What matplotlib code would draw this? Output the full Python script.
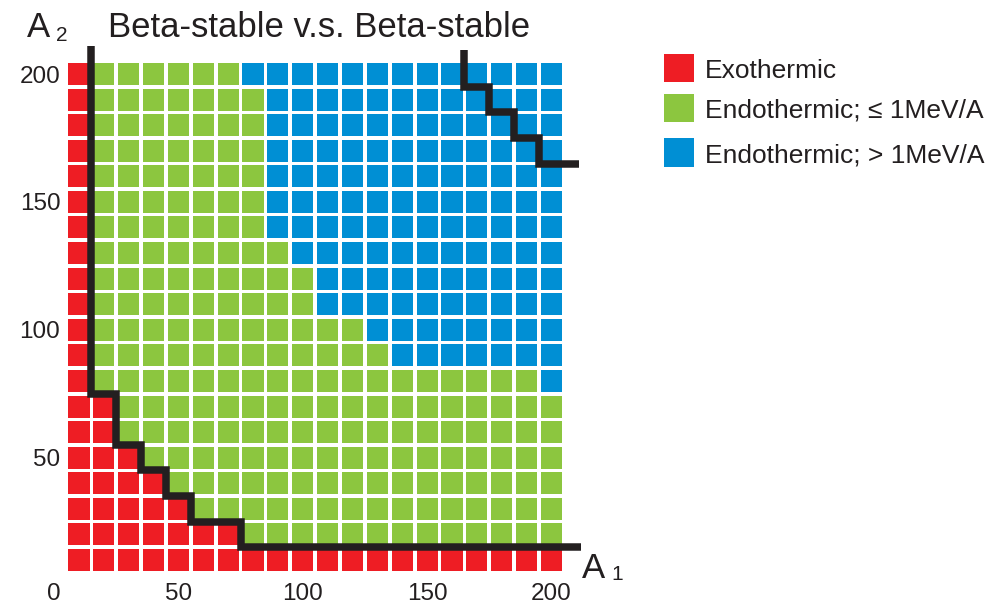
import matplotlib
matplotlib.use("Agg")
import matplotlib.pyplot as plt
from matplotlib.patches import Rectangle

# Mass numbers of the two nuclei (cell centres on both axes)
a1_values = [10, 20, 30, 40, 50, 60, 70, 80, 90, 100,
             110, 120, 130, 140, 150, 160, 170, 180, 190, 200]
a2_values = [10, 20, 30, 40, 50, 60, 70, 80, 90, 100,
             110, 120, 130, 140, 150, 160, 170, 180, 190, 200]

# Per A2 row (bottom to top): largest A1 that is exothermic
red_last_a1 = [200, 70, 50, 40, 30, 20, 20, 10, 10, 10,
               10, 10, 10, 10, 10, 10, 10, 10, 10, 10]
# Per A2 row: first A1 that is endothermic by more than 1 MeV/A (None = none)
blue_first_a1 = [None, None, None, None, None, None, None, 200, 140, 130,
                 110, 110, 100, 90, 90, 90, 90, 90, 90, 80]

# Boundary staircases
lower_bound_a1 = [15, 25, 35, 45, 55, 75, 212]
lower_bound_a2 = [211, 75, 55, 45, 35, 25, 15]
upper_bound_a1 = [165, 175, 185, 195, 211]
upper_bound_a2 = [209.5, 195, 185, 175, 165]

x_ticks = [0, 50, 100, 150, 200]
y_ticks = [50, 100, 150, 200]

title = "Beta-stable v.s. Beta-stable"
legend_labels = ["Exothermic", "Endothermic; \u2264 1MeV/A", "Endothermic; > 1MeV/A"]

RED = "#EE1D24"
GREEN = "#8CC63F"
BLUE = "#008FD4"
INK = "#231F20"
FONT = ["Liberation Sans", "DejaVu Sans"]

W, H = 998, 608
fig = plt.figure(figsize=(W / 100, H / 100), dpi=100)

# axes geometry in pixels: origin and scale
x0_px, y0_px = 54.1, 585.6
sx, sy = 2.487, 2.558
lim = 215
ax = fig.add_axes([x0_px / W, (H - y0_px) / H, lim * sx / W, lim * sy / H])
ax.set_xlim(0, lim)
ax.set_ylim(0, lim)
for s in ax.spines.values():
    s.set_visible(False)

cw, ch = 8.5, 8.6
for j, a2 in enumerate(a2_values):
    for a1 in a1_values:
        if a1 <= red_last_a1[j] or a2 <= 10:
            c = RED
        elif blue_first_a1[j] is not None and a1 >= blue_first_a1[j]:
            c = BLUE
        else:
            c = GREEN
        ax.add_patch(Rectangle((a1 - cw / 2, a2 - ch / 2), cw, ch,
                               facecolor=c, edgecolor="none", zorder=1))

for xs, ys in [(lower_bound_a1, lower_bound_a2), (upper_bound_a1, upper_bound_a2)]:
    ax.step(xs, ys, where="pre", color=INK, lw=5.4, clip_on=False, zorder=3,
            solid_joinstyle="miter", solid_capstyle="butt")

ax.set_xticks(x_ticks)
ax.set_xticklabels([str(v) for v in x_ticks], family=FONT, fontsize=17.5, color=INK)
ax.set_yticks(y_ticks)
ax.set_yticklabels([str(v) for v in y_ticks], family=FONT, fontsize=17.5, color=INK)
ax.tick_params(axis="x", length=0, pad=-2)
ax.tick_params(axis="y", length=0, pad=-4.5)

def fx(px):
    return px / W

def fy(py):
    return (H - py) / H

fig.text(fx(319), fy(37), title, family=FONT, fontsize=25, color=INK,
         ha="center", va="baseline")

# axis names with subscripts
fig.text(fx(27), fy(37), "A", family=FONT, fontsize=25, color=INK, va="baseline")
fig.text(fx(56), fy(41), "2", family=FONT, fontsize=15, color=INK, va="baseline")
fig.text(fx(582), fy(578), "A", family=FONT, fontsize=25, color=INK, va="baseline")
fig.text(fx(611), fy(580), "1", family=FONT, fontsize=15, color=INK, va="baseline")

# legend
for (top, bot), col, lab in zip([(54, 82), (94, 122), (138, 167)],
                                [RED, GREEN, BLUE], legend_labels):
    fig.patches.append(Rectangle((fx(664), fy(bot)), 30 / W, (bot - top) / H,
                                 transform=fig.transFigure, facecolor=col,
                                 edgecolor="none"))
    fig.text(fx(705), fy((top + bot) / 2), lab, family=FONT, fontsize=19,
             color=INK, va="center_baseline", ha="left")

fig.savefig("out.png", dpi=100)
